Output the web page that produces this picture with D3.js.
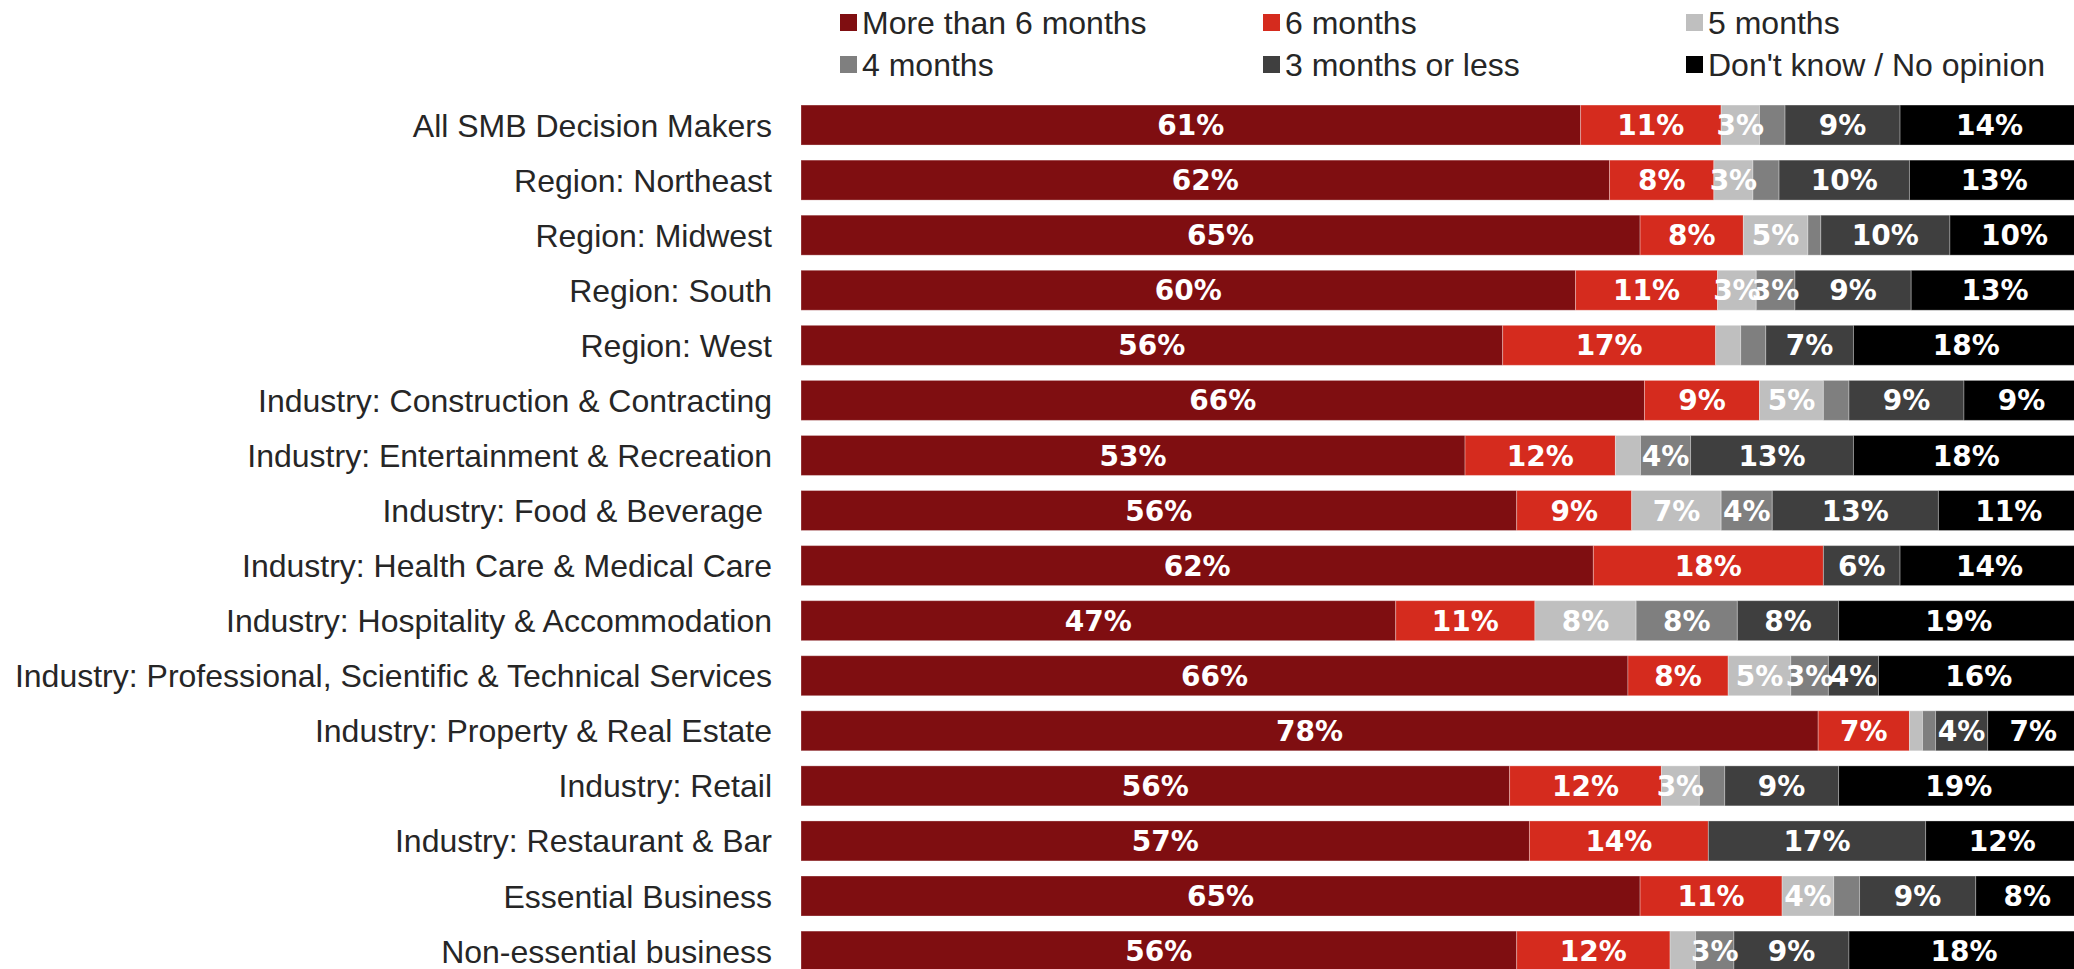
<!DOCTYPE html>
<html>
<head>
<meta charset="utf-8">
<script src="https://cdn.jsdelivr.net/npm/d3@7"></script>
<style>
  html, body { margin: 0; padding: 0; background: #fff; overflow: hidden; }
  svg { display: block; }
</style>
</head>
<body>
<svg id="chart"></svg>
<script>
const categories = [
  'All SMB Decision Makers',
  'Region: Northeast',
  'Region: Midwest',
  'Region: South',
  'Region: West',
  'Industry: Construction & Contracting',
  'Industry: Entertainment & Recreation',
  'Industry: Food & Beverage ',
  'Industry: Health Care & Medical Care',
  'Industry: Hospitality & Accommodation',
  'Industry: Professional, Scientific & Technical Services',
  'Industry: Property & Real Estate',
  'Industry: Retail',
  'Industry: Restaurant & Bar',
  'Essential Business',
  'Non-essential business'
]

const seriesNames = ['More than 6 months', '6 months', '5 months', '4 months', '3 months or less', "Don't know / No opinion"]
const seriesColors = ['#7f0e11', '#d52b1e', '#bfbfbf', '#7f7f7f', '#3f3f3f', '#000000']

const moreThan6 = [61, 62, 65, 60, 56, 66, 53, 56, 62, 47, 66, 78, 56, 57, 65, 56]
const sixMonths = [11, 8, 8, 11, 17, 9, 12, 9, 18, 11, 8, 7, 12, 14, 11, 12]
const fiveMonths = [3, 3, 5, 3, 2, 5, 2, 7, 0, 8, 5, 1, 3, 0, 4, 2]
const fourMonths = [2, 2, 1, 3, 2, 2, 4, 4, 0, 8, 3, 1, 2, 0, 2, 3]
const threeOrLess = [9, 10, 10, 9, 7, 9, 13, 13, 6, 8, 4, 4, 9, 17, 9, 9]
const dontKnow = [14, 13, 10, 13, 18, 9, 18, 11, 14, 19, 16, 7, 19, 12, 8, 18]

const seriesValues = [moreThan6, sixMonths, fiveMonths, fourMonths, threeOrLess, dontKnow]

const width = 2074
const height = 969
const barLeft = 801
const barRight = 2079 // plot runs a few px past the page edge
const labelRight = 772

const svg = d3.select('#chart')
  .attr('width', width)
  .attr('height', height)

const rows = categories.map((c, i) => {
  const row = { category: c }
  seriesNames.forEach((s, j) => { row[s] = seriesValues[j][i] })
  return row
})

const stacked = d3.stack()
  .keys(seriesNames)
  .offset(d3.stackOffsetExpand)(rows)

const xPositionScale = d3.scaleLinear().domain([0, 1]).range([barLeft, barRight])

const step = 55.07
const yPositionScale = d3.scaleBand()
  .domain(categories)
  .range([97.5, 97.5 + step * categories.length])
  .paddingInner(0.274)
  .paddingOuter(0.137)

const colorScale = d3.scaleOrdinal().domain(seriesNames).range(seriesColors)

// legend, 3 columns x 2 rows
const legend = svg.append('g')
  .selectAll('g')
  .data(seriesNames)
  .enter()
  .append('g')
  .attr('transform', (d, i) => 'translate(' + (840 + (i % 3) * 423) + ',' + (i < 3 ? 14 : 56) + ')')

legend.append('rect')
  .attr('width', 17)
  .attr('height', 17)
  .attr('fill', d => colorScale(d))

legend.append('text')
  .text(d => d)
  .attr('x', 22)
  .attr('y', 19.5)
  .attr('font-family', '"Liberation Sans", Arial, sans-serif')
  .attr('font-size', 32)
  .attr('fill', '#262626')

// category labels
svg.append('g')
  .selectAll('text')
  .data(categories)
  .enter()
  .append('text')
  .text(d => d)
  .attr('xml:space', 'preserve')
  .style('white-space', 'pre')
  .attr('x', labelRight)
  .attr('y', d => yPositionScale(d) + yPositionScale.bandwidth() / 2)
  .attr('dy', '0.36em')
  .attr('text-anchor', 'end')
  .attr('font-family', '"Liberation Sans", Arial, sans-serif')
  .attr('font-size', 32)
  .attr('fill', '#262626')

const layers = svg.append('g')
  .selectAll('g')
  .data(stacked)
  .enter()
  .append('g')
  .attr('fill', d => colorScale(d.key))

layers.selectAll('rect')
  .data(d => d)
  .enter()
  .append('rect')
  .attr('x', d => xPositionScale(d[0]))
  .attr('y', d => yPositionScale(d.data.category))
  .attr('width', d => xPositionScale(d[1]) - xPositionScale(d[0]))
  .attr('height', yPositionScale.bandwidth())
  .attr('stroke', 'rgba(255,255,255,0.3)')
  .attr('stroke-width', 1)

// value labels, small slices left unlabeled
stacked.forEach(layer => {
  svg.append('g')
    .selectAll('text')
    .data(layer.filter(d => d.data[layer.key] >= 3))
    .enter()
    .append('text')
    .text(d => d.data[layer.key] + '%')
    .attr('x', d => (xPositionScale(d[0]) + xPositionScale(d[1])) / 2)
    .attr('y', d => yPositionScale(d.data.category) + yPositionScale.bandwidth() / 2)
    .attr('dy', '0.36em')
    .attr('text-anchor', 'middle')
    .attr('font-family', '"DejaVu Sans", Verdana, sans-serif')
    .attr('font-weight', 'bold')
    .attr('font-size', 28)
    .attr('fill', '#fff')
})
</script>
</body>
</html>
